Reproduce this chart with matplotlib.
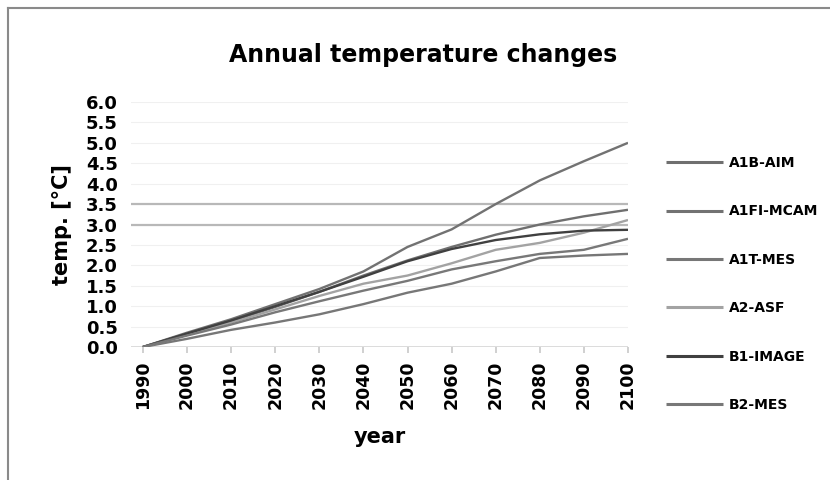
import matplotlib
matplotlib.use("Agg")
import matplotlib.pyplot as plt
from matplotlib.lines import Line2D

# Warming scenarios, temperature change relative to 1990 [°C]
years = ["1990", "2000", "2010", "2020", "2030", "2040",
         "2050", "2060", "2070", "2080", "2090", "2100"]

a1b_aim   = [0, 0.32, 0.63, 0.98, 1.35, 1.75, 2.12, 2.45, 2.75, 3.00, 3.20, 3.36]
a1fi_mcam = [0, 0.35, 0.68, 1.05, 1.42, 1.85, 2.45, 2.88, 3.50, 4.08, 4.55, 5.00]
a1t_mes   = [0, 0.20, 0.42, 0.60, 0.80, 1.05, 1.33, 1.55, 1.85, 2.18, 2.24, 2.28]
a2_asf    = [0, 0.30, 0.60, 0.92, 1.25, 1.55, 1.75, 2.05, 2.38, 2.55, 2.80, 3.11]
b1_image  = [0, 0.33, 0.65, 1.00, 1.35, 1.72, 2.10, 2.40, 2.62, 2.76, 2.85, 2.87]
b2_mes    = [0, 0.28, 0.55, 0.85, 1.12, 1.38, 1.62, 1.90, 2.10, 2.28, 2.38, 2.65]

series_names = ["A1B-AIM", "A1FI-MCAM", "A1T-MES", "A2-ASF", "B1-IMAGE", "B2-MES"]
series_values = [a1b_aim, a1fi_mcam, a1t_mes, a2_asf, b1_image, b2_mes]
series_colors = ["#6f6f6f", "#727272", "#777777", "#a3a3a3", "#404040", "#787878"]

# Threshold reference levels
thresholds = [3.0, 3.5]
y_ticks = [i * 0.5 for i in range(13)]

W, H = 830, 480
fig = plt.figure(figsize=(W / 100, H / 100), dpi=100)
fig.patch.set_facecolor("white")

# chart frame
fig.add_artist(Line2D([8 / W, 8 / W], [0, 1 - 8 / H], color="#8a8a8a", lw=1.5,
                      transform=fig.transFigure))
fig.add_artist(Line2D([8 / W, 1], [1 - 8 / H, 1 - 8 / H], color="#8a8a8a", lw=1.5,
                      transform=fig.transFigure))

left, right, top, bottom = 131, 628, 102, 347
ax = fig.add_axes([left / W, 1 - bottom / H, (right - left) / W, (bottom - top) / H])

x = list(range(len(years)))
for yv in y_ticks:
    ax.axhline(yv, color="#f0f0f0", lw=0.8, zorder=0)
ax.axhline(0, color="#d9d9d9", lw=1.3, zorder=1)
for t in thresholds:
    ax.axhline(t, color="#b8b8b8", lw=1.6, zorder=1)

for name, vals, col in zip(series_names, series_values, series_colors):
    ax.plot(x, vals, color=col, lw=1.7, label=name, zorder=3,
            solid_capstyle="butt")

ax.set_xlim(-0.27, 11)
ax.set_ylim(0, 6)
for s in ax.spines.values():
    s.set_visible(False)

ax.set_yticks(y_ticks)
ax.set_yticklabels([f"{v:.1f}" for v in y_ticks], fontsize=13, fontweight="bold")
ax.tick_params(axis="y", length=0, pad=9.5)
ax.set_xticks(x)
ax.set_xticklabels(years, rotation=90, fontsize=12.5, fontweight="bold")
ax.tick_params(axis="x", length=4.5, color="#c8c8c8", width=1.2, pad=5)

ax.set_ylabel("temp. [°C]", fontsize=15, fontweight="bold", labelpad=10)
ax.set_xlabel("year", fontsize=15, fontweight="bold", labelpad=13)

fig.text(423 / W, 1 - 55 / H, "Annual temperature changes", ha="center",
         va="center", fontsize=17, fontweight="bold")

leg = fig.legend(loc="upper left", bbox_to_anchor=(666 / W, 1 - 156 / H),
                 frameon=False, prop={"size": 10, "weight": "bold"},
                 handlelength=4.1, handletextpad=0.4,
                 labelspacing=2.48, borderpad=0, borderaxespad=0)
for h in leg.get_lines():
    h.set_linewidth(2.2)

fig.savefig("out.png", dpi=100, facecolor="white")
